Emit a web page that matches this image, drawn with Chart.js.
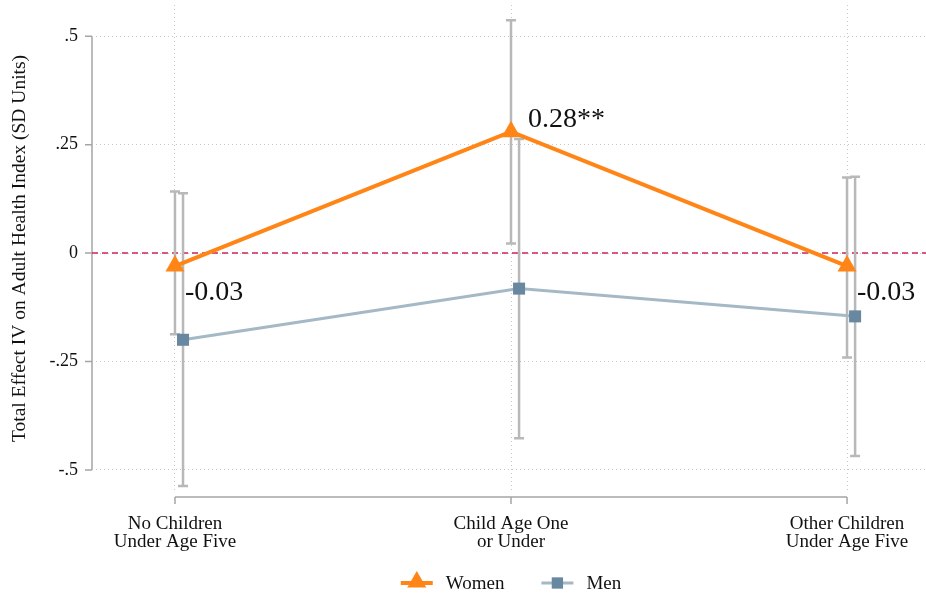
<!DOCTYPE html>
<html>
<head>
<meta charset="utf-8">
<script src="https://cdn.jsdelivr.net/npm/chart.js@4.4.0/dist/chart.umd.min.js"></script>
<style>
  html, body { margin: 0; padding: 0; background: #fff; }
  #wrap { width: 926px; height: 596px; }
</style>
</head>
<body>
<div id="wrap"><canvas id="c" width="926" height="596"></canvas></div>
<script>
// Categories (multi-line axis labels)
const categories = [
  ['No Children', 'Under Age Five'],
  ['Child Age One', 'or Under'],
  ['Other Children', 'Under Age Five']
];

// Women: point estimates, 95% CI bounds, significance stars
const womenEffect = [-0.03, 0.28, -0.03];
const womenLower  = [-0.187, 0.022, -0.241];
const womenUpper  = [0.142, 0.537, 0.174];
const womenStars  = ['', '**', ''];

// Men: point estimates and 95% CI bounds
const menEffect = [-0.200, -0.082, -0.146];
const menLower  = [-0.537, -0.427, -0.468];
const menUpper  = [0.138, 0.263, 0.176];

// Y axis ticks
const yTickValues = [-0.5, -0.25, 0, 0.25, 0.5];
const yTickLabels = ['-.5', '-.25', '0', '.25', '.5'];

const seriesNames = ['Women', 'Men'];
const yTitle = 'Total Effect IV on Adult Health Index (SD Units)';

// Styling
const FONT = "'Liberation Serif', 'Times New Roman', serif";
const TEXT = '#111';
const ORANGE = 'rgb(255,134,22)';
const MEN_LINE = 'rgb(165,184,198)';
const MEN_MARK = 'rgb(104,135,160)';
const BAR = 'rgb(184,184,184)';
const AXIS = 'rgb(165,165,165)';
const GRID = 'rgb(200,200,200)';
const ZERO = 'rgb(208,36,88)';
const MEN_SHIFT = 0.024;   // small horizontal dodge so the two CIs do not overlap

const womenPoints = womenEffect.map((v, i) => ({ x: i + 1, y: v }));
const menPoints = menEffect.map((v, i) => ({ x: i + 1 + MEN_SHIFT, y: v }));

const decor = {
  id: 'decor',
  beforeDatasetsDraw(chart) {
    const { ctx, chartArea: a, scales: { x, y } } = chart;
    ctx.save();

    // axis lines spanning the tick range, with outward tick marks
    ctx.strokeStyle = AXIS;
    ctx.lineWidth = 1.5;
    const ax = a.left - 4;
    ctx.beginPath();
    ctx.moveTo(ax, y.getPixelForValue(yTickValues[yTickValues.length - 1]));
    ctx.lineTo(ax, y.getPixelForValue(yTickValues[0]));
    yTickValues.forEach(v => {
      const py = y.getPixelForValue(v);
      ctx.moveTo(ax - 7, py);
      ctx.lineTo(ax, py);
    });
    const ay = a.bottom + 5;
    ctx.moveTo(x.getPixelForValue(1), ay);
    ctx.lineTo(x.getPixelForValue(categories.length), ay);
    categories.forEach((_, i) => {
      const px = x.getPixelForValue(i + 1);
      ctx.moveTo(px, ay);
      ctx.lineTo(px, ay + 7);
    });
    ctx.stroke();

    // dashed zero reference line
    const y0 = y.getPixelForValue(0);
    ctx.strokeStyle = ZERO;
    ctx.lineWidth = 1.5;
    ctx.setLineDash([6, 4]);
    ctx.beginPath();
    ctx.moveTo(ax, y0);
    ctx.lineTo(a.right, y0);
    ctx.stroke();
    ctx.setLineDash([]);

    // confidence interval bars with caps
    const drawCI = (lo, hi, shift) => {
      ctx.strokeStyle = BAR;
      ctx.lineWidth = 2.5;
      ctx.beginPath();
      lo.forEach((l, i) => {
        const px = x.getPixelForValue(i + 1 + shift);
        const pl = y.getPixelForValue(l);
        const ph = y.getPixelForValue(hi[i]);
        ctx.moveTo(px, pl); ctx.lineTo(px, ph);
        ctx.moveTo(px - 5, pl); ctx.lineTo(px + 5, pl);
        ctx.moveTo(px - 5, ph); ctx.lineTo(px + 5, ph);
      });
      ctx.stroke();
    };
    drawCI(menLower, menUpper, MEN_SHIFT);
    drawCI(womenLower, womenUpper, 0);
    ctx.restore();
  },
  afterDatasetsDraw(chart) {
    const { ctx } = chart;
    const meta = chart.getDatasetMeta(0);
    ctx.save();
    ctx.fillStyle = TEXT;
    ctx.font = `28px ${FONT}`;
    ctx.textAlign = 'left';
    ctx.textBaseline = 'middle';
    meta.data.forEach((pt, i) => {
      const v = womenEffect[i];
      const label = v.toFixed(2) + womenStars[i];
      if (v >= 0) ctx.fillText(label, pt.x + 17, pt.y - 12);
      else ctx.fillText(label, pt.x + 10, pt.y + 27);
    });
    ctx.restore();
  },
  afterDraw(chart) {
    // legend below the plot, centred on the plot region
    const { ctx, chartArea: a } = chart;
    ctx.save();
    ctx.font = `19px ${FONT}`;
    ctx.textBaseline = 'middle';
    ctx.textAlign = 'left';
    const symW = 32, gapSym = 13, gapItem = 37;
    const widths = seriesNames.map(n => ctx.measureText(n).width);
    const total = symW * 2 + gapSym * 2 + widths[0] + widths[1] + gapItem;
    let cx = (a.left + a.right) / 2 - total / 2;
    const cy = 583;
    const styles = [
      { line: ORANGE, lw: 4, fill: ORANGE, style: 'triangle', r: 11 },
      { line: MEN_LINE, lw: 3, fill: MEN_MARK, style: 'rect', r: 8 }
    ];
    seriesNames.forEach((name, i) => {
      const s = styles[i];
      ctx.strokeStyle = s.line;
      ctx.lineWidth = s.lw;
      ctx.beginPath();
      ctx.moveTo(cx, cy);
      ctx.lineTo(cx + symW, cy);
      ctx.stroke();
      ctx.fillStyle = s.fill;
      Chart.helpers.drawPoint(ctx, { pointStyle: s.style, radius: s.r, rotation: 0, borderWidth: 0 }, cx + symW / 2, cy - (s.style === 'triangle' ? 1 : 0));
      ctx.fillStyle = TEXT;
      ctx.fillText(name, cx + symW + gapSym, cy + 1);
      cx += symW + gapSym + widths[i] + gapItem;
    });
    ctx.restore();
  }
};

new Chart(document.getElementById('c'), {
  type: 'line',
  data: {
    datasets: [
      {
        label: seriesNames[0],
        data: womenPoints,
        borderColor: ORANGE,
        backgroundColor: ORANGE,
        borderWidth: 4,
        pointStyle: 'triangle',
        pointRadius: 11,
        pointHoverRadius: 11,
        pointBorderWidth: 0,
        pointBackgroundColor: ORANGE,
        tension: 0,
        clip: false
      },
      {
        label: seriesNames[1],
        data: menPoints,
        borderColor: MEN_LINE,
        backgroundColor: MEN_MARK,
        borderWidth: 3,
        pointStyle: 'rect',
        pointRadius: 8.5,
        pointHoverRadius: 8.5,
        pointBorderWidth: 0,
        pointBackgroundColor: MEN_MARK,
        tension: 0,
        clip: false
      }
    ]
  },
  options: {
    responsive: false,
    animation: false,
    devicePixelRatio: 1,
    layout: { autoPadding: false, padding: { top: 5, right: 0, bottom: 40, left: 0 } },
    plugins: {
      legend: { display: false },
      tooltip: { enabled: false }
    },
    scales: {
      x: {
        type: 'linear',
        min: 0.765,
        max: 3.235,
        afterBuildTicks: s => { s.ticks = categories.map((_, i) => ({ value: i + 1 })); },
        afterFit: s => { s.height = 64; s.paddingLeft = 0; s.paddingRight = 0; },
        ticks: {
          callback: (v, i) => categories[i],
          font: { family: FONT, size: 19, lineHeight: 0.95 },
          color: TEXT,
          padding: 23,
          maxRotation: 0,
          autoSkip: false
        },
        grid: { color: GRID, lineWidth: 1, drawTicks: false },
        border: { display: false, dash: [1, 3] }
      },
      y: {
        min: -0.551,
        max: 0.572,
        afterBuildTicks: s => { s.ticks = yTickValues.map(v => ({ value: v })); },
        afterFit: s => { s.width = 96; s.paddingTop = 0; s.paddingBottom = 0; },
        ticks: {
          callback: (v, i) => yTickLabels[i],
          font: { family: FONT, size: 18 },
          color: TEXT,
          padding: 18
        },
        title: {
          display: true,
          text: yTitle,
          font: { family: FONT, size: 19.5 },
          color: TEXT,
          padding: { top: 8, bottom: 0 }
        },
        grid: { color: GRID, lineWidth: 1, drawTicks: false },
        border: { display: false, dash: [1, 3] }
      }
    }
  },
  plugins: [decor]
});
</script>
</body>
</html>
